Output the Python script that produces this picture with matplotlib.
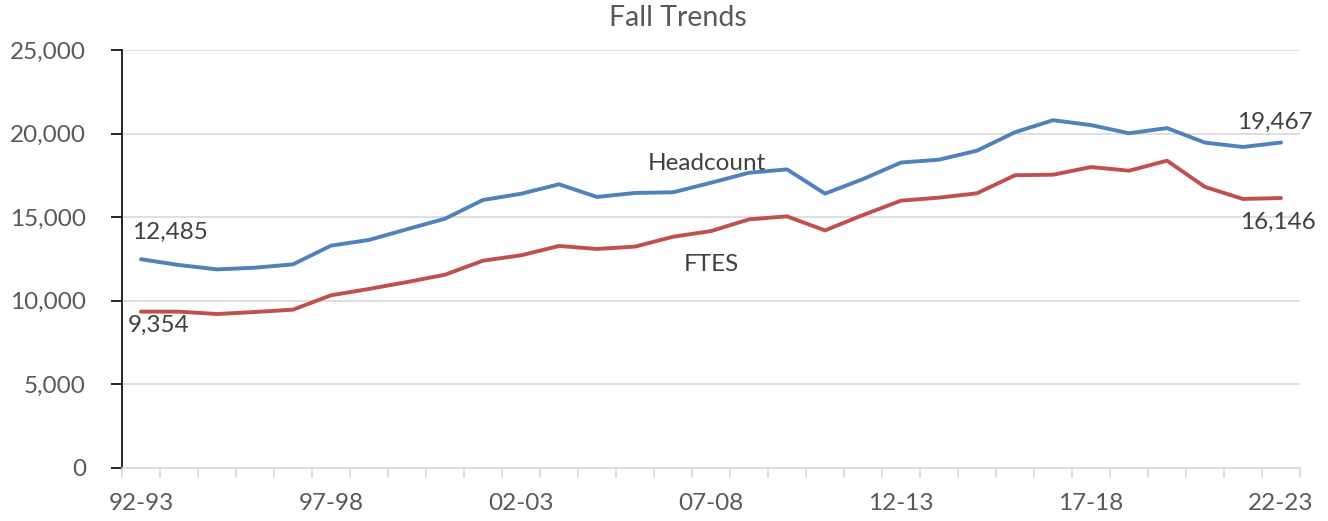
import matplotlib
matplotlib.use("Agg")
import matplotlib.pyplot as plt
import numpy as np

years = ["92-93", "93-94", "94-95", "95-96", "96-97", "97-98", "98-99", "99-00",
         "00-01", "01-02", "02-03", "03-04", "04-05", "05-06", "06-07", "07-08",
         "08-09", "09-10", "10-11", "11-12", "12-13", "13-14", "14-15", "15-16",
         "16-17", "17-18", "18-19", "19-20", "20-21", "21-22", "22-23"]
headcount = [12485, 12140, 11880, 11980, 12180, 13300, 13640, 14280, 14910, 16030,
             16400, 16970, 16210, 16450, 16490, 17060, 17660, 17860, 16410, 17280,
             18270, 18440, 18980, 20080, 20800, 20510, 20020, 20330, 19460, 19200, 19467]
ftes = [9354, 9350, 9210, 9330, 9470, 10330, 10710, 11120, 11560, 12400,
        12720, 13280, 13100, 13240, 13830, 14170, 14870, 15050, 14210, 15130,
        15990, 16170, 16430, 17510, 17540, 18000, 17780, 18380, 16810, 16090, 16146]
tick_labels = ["92-93", "97-98", "02-03", "07-08", "12-13", "17-18", "22-23"]

plt.rcParams['font.family'] = ['Lato', 'DejaVu Sans']
txt = "#595959"

fig = plt.figure(figsize=(13.28, 5.21), dpi=100)
ax = fig.add_axes([122/1328, 1-468/521, (1300-122)/1328, (468-50)/521])

x = np.arange(len(years))
ax.plot(x, headcount, color="#4F81BD", lw=2.8, solid_capstyle="round")
ax.plot(x, ftes, color="#C0504D", lw=2.8, solid_capstyle="round")

ax.set_ylim(0, 25000)
ax.set_xlim(-0.5, len(years) - 0.5)
ax.set_yticks(np.arange(0, 25001, 5000))
ax.set_yticklabels([f"{v:,}" for v in range(0, 25001, 5000)])
ax.yaxis.grid(True, color="#D9D9D9", lw=1.2)
ax.set_axisbelow(True)

major = [years.index(l) for l in tick_labels]
ax.set_xticks(major)
ax.set_xticklabels(tick_labels)
ax.set_xticks(np.arange(-0.5, len(years), 1), minor=True)
ax.tick_params(axis="x", which="major", length=0, pad=18, labelsize=17.5, colors=txt)
ax.tick_params(axis="x", which="minor", length=7, color="#D9D9D9", width=1.2)
ax.tick_params(axis="y", length=8, width=1.2, color="black", labelsize=17.5,
               labelcolor=txt, pad=18)

for s in ["top", "right"]:
    ax.spines[s].set_visible(False)
ax.spines["left"].set_color("black")
ax.spines["left"].set_linewidth(1.2)
ax.spines["bottom"].set_color("#D9D9D9")
ax.spines["bottom"].set_linewidth(1.2)

fs = 17.5
ax.annotate(f"{headcount[0]:,}", (0, headcount[0]), xytext=(-9, 27), textcoords="offset pixels",
            ha="left", va="center", fontsize=fs, color="#404040")
ax.annotate(f"{ftes[0]:,}", (0, ftes[0]), xytext=(-13, -14), textcoords="offset pixels",
            ha="left", va="center", fontsize=fs, color="#404040")
ax.annotate(f"{headcount[-1]:,}", (30, headcount[-1]), xytext=(32, 20), textcoords="offset pixels",
            ha="right", va="center", fontsize=fs, color="#404040")
ax.annotate(f"{ftes[-1]:,}", (30, ftes[-1]), xytext=(35, -24), textcoords="offset pixels",
            ha="right", va="center", fontsize=fs, color="#404040")
ax.text(14.9, 18200, "Headcount", ha="center", va="center", fontsize=fs, color="#404040")
ax.text(15.0, 12180, "FTES", ha="center", va="center", fontsize=fs, color="#404040")

fig.text(678/1328, 1-18/521, "Fall Trends", ha="center", va="center", fontsize=20.5, color=txt)

fig.savefig("out.png", dpi=100)
